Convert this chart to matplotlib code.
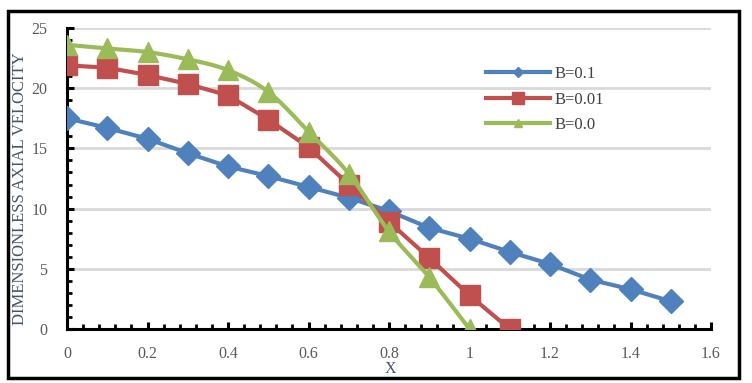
import numpy as np
import matplotlib
matplotlib.use('Agg')
import matplotlib.pyplot as plt
from matplotlib.patches import Rectangle
from matplotlib.ticker import MultipleLocator, FuncFormatter

# data
x_b01 = [0, 0.1, 0.2, 0.3, 0.4, 0.5, 0.6, 0.7, 0.8, 0.9, 1.0, 1.1, 1.2, 1.3, 1.4, 1.5]
v_b01 = [17.5, 16.7, 15.8, 14.6, 13.5, 12.7, 11.8, 10.9, 9.8, 8.4, 7.5, 6.4, 5.4, 4.1, 3.3, 2.3]

x_b001 = [0, 0.1, 0.2, 0.3, 0.4, 0.5, 0.6, 0.7, 0.8, 0.9, 1.0, 1.1]
v_b001 = [21.9, 21.7, 21.1, 20.35, 19.4, 17.4, 15.1, 12.0, 8.9, 5.9, 2.8, 0.0]

x_b0 = [0, 0.1, 0.2, 0.3, 0.4, 0.5, 0.6, 0.7, 0.8, 0.9, 1.0]
v_b0 = [23.6, 23.3, 23.0, 22.4, 21.5, 19.7, 16.4, 12.9, 8.1, 4.3, 0.0]

labels = ['B=0.1', 'B=0.01', 'B=0.0']
colors = ['#4F81BD', '#C0504D', '#9BBB59']


def smooth(xs, ys, n=20):
    # Catmull-Rom curve through the points, like Excel's smoothed line
    p = np.column_stack([xs, ys]).astype(float)
    p = np.vstack([p[0], p, p[-1]])
    out = []
    t = np.linspace(0, 1, n, endpoint=False)[:, None]
    for i in range(1, len(p) - 2):
        p0, p1, p2, p3 = p[i - 1], p[i], p[i + 1], p[i + 2]
        seg = 0.5 * ((2 * p1) + (-p0 + p2) * t + (2 * p0 - 5 * p1 + 4 * p2 - p3) * t ** 2
                     + (-p0 + 3 * p1 - 3 * p2 + p3) * t ** 3)
        out.append(seg)
    out.append(p[-2][None, :])
    out = np.vstack(out)
    return out[:, 0], out[:, 1]


fig = plt.figure(figsize=(7.52, 3.83), dpi=100)
ax = fig.add_axes([67 / 752, 1 - 329 / 383, 644 / 752, 301 / 383])

serif = 'Liberation Serif'

ax.plot(x_b01, v_b01, color=colors[0], lw=3, marker='D', ms=12, label=labels[0], zorder=3)
ax.plot(x_b001, v_b001, color=colors[1], lw=3, marker='s', ms=15, label=labels[1], zorder=4)
sx, sy = smooth(x_b0, v_b0)
ax.plot(sx, sy, color=colors[2], lw=3, zorder=5)
ax.plot(x_b0, v_b0, color=colors[2], lw=0, marker='^', ms=15, zorder=5)

ax.set_xlim(0, 1.6)
ax.set_ylim(0, 25)
ax.xaxis.set_major_locator(MultipleLocator(0.2))
ax.xaxis.set_minor_locator(MultipleLocator(0.04))
ax.yaxis.set_major_locator(MultipleLocator(5))
ax.yaxis.set_minor_locator(MultipleLocator(1))
ax.xaxis.set_major_formatter(FuncFormatter(lambda v, _: f'{v:g}'))

ax.grid(axis='y', color='#D9D9D9', lw=2)
ax.set_axisbelow(True)
for s in ['top', 'right']:
    ax.spines[s].set_visible(False)
for s in ['left', 'bottom']:
    ax.spines[s].set_linewidth(2.2)
    ax.spines[s].set_color('black')

ax.tick_params(which='major', direction='in', length=5, width=2.2, color='black',
               labelsize=11.5, labelcolor='#595959', pad=14)
ax.tick_params(which='minor', direction='in', length=3.5, width=2, color='black')
ax.tick_params(axis='x', pad=12)
for lbl in ax.get_xticklabels() + ax.get_yticklabels():
    lbl.set_family(serif)

ax.set_xlabel('X', fontsize=11.5, family=serif, color='#44546A')
ax.set_ylabel('DIMENSIONLESS AXIAL VELOCITY', fontsize=12, family=serif, color='#44546A')
ax.xaxis.set_label_coords(0.5016, -0.106)
ax.yaxis.set_label_coords(-0.06, 0.465)

handles = [
    plt.Line2D([0], [0], color=colors[0], lw=3, marker='D', ms=5),
    plt.Line2D([0], [0], color=colors[1], lw=3, marker='s', ms=8),
    plt.Line2D([0], [0], color=colors[2], lw=3, marker='^', ms=6),
]
leg = ax.legend(handles, labels, loc='upper left', bbox_to_anchor=(0.651, 0.874),
                frameon=False, prop={'family': serif, 'size': 12}, handlelength=3.8,
                labelspacing=0.58, handletextpad=0.3, borderpad=0, borderaxespad=0)
for t in leg.get_texts():
    t.set_color('#404040')

# outer chart border
fig.patches.append(Rectangle((8 / 752, 1 - 378 / 383), 731 / 752, 367 / 383,
                             transform=fig.transFigure, fill=False, lw=2.5,
                             edgecolor='black', zorder=10))

fig.savefig('out.png', dpi=100)
